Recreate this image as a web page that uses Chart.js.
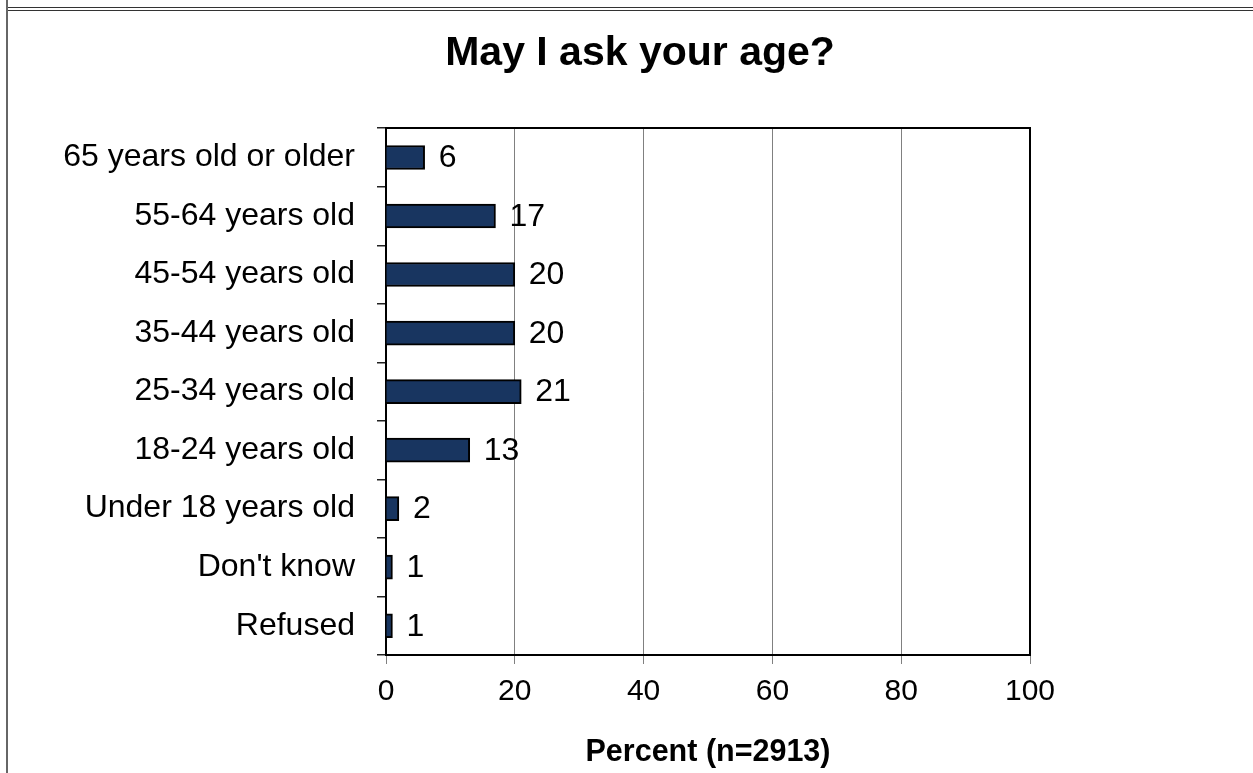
<!DOCTYPE html>
<html>
<head>
<meta charset="utf-8">
<title>May I ask your age?</title>
<script src="https://cdn.jsdelivr.net/npm/chart.js@4/dist/chart.umd.min.js"></script>
<style>
    html, body { margin: 0; padding: 0; background: #fff; overflow: hidden; }
    #wrap { position: relative; width: 1253px; height: 773px; }
    #ageChart { position: absolute; left: 0; top: 0; }
    .rule { position: absolute; pointer-events: none; }
    #ruleTopA { left: 7px; right: 0; top: 7px; height: 1px; background: #333; }
    #ruleTopB { left: 7px; right: 0; top: 10px; height: 1px; background: #333; }
    #ruleLeft { left: 6px; top: 0; bottom: 0; width: 2px; background: #666; }
</style>
</head>
<body>
<div id="wrap">
    <canvas id="ageChart" width="1253" height="773"></canvas>
    <div class="rule" id="ruleTopA"></div>
    <div class="rule" id="ruleTopB"></div>
    <div class="rule" id="ruleLeft"></div>
</div>
<script>
const ageGroups = [
    '65 years old or older',
    '55-64 years old',
    '45-54 years old',
    '35-44 years old',
    '25-34 years old',
    '18-24 years old',
    'Under 18 years old',
    "Don't know",
    'Refused'
];
const percentValues = [6, 17, 20, 20, 21, 13, 2, 1, 1];
const percentTicks = [0, 20, 40, 60, 80, 100];

const FONT = '"Liberation Sans", Arial, Helvetica, sans-serif';

// writes the percent next to the end of each bar
const valueLabels = {
    id: 'valueLabels',
    afterDatasetsDraw(chart) {
        const ctx = chart.ctx;
        const meta = chart.getDatasetMeta(0);
        ctx.save();
        ctx.font = '32px ' + FONT;
        ctx.fillStyle = '#000';
        ctx.textAlign = 'left';
        ctx.textBaseline = 'middle';
        meta.data.forEach(function(bar, i) {
            ctx.fillText(String(percentValues[i]), bar.x + 14, bar.y + 1);
        });
        ctx.restore();
    }
};

document.addEventListener('DOMContentLoaded', function() {
    const ctx = document.getElementById('ageChart').getContext('2d');
    new Chart(ctx, {
        type: 'bar',
        data: {
            labels: ageGroups,
            datasets: [{
                data: percentValues,
                backgroundColor: '#183560',
                borderColor: '#000',
                borderWidth: 2,
                barThickness: 24
            }]
        },
        options: {
            indexAxis: 'y',
            responsive: false,
            animation: false,
            layout: {
                padding: { left: 27, right: 0, top: 0, bottom: 0 }
            },
            plugins: {
                legend: { display: false },
                tooltip: { enabled: false },
                title: {
                    display: true,
                    text: 'May I ask your age?',
                    color: '#000',
                    font: { family: FONT, size: 41, weight: 'bold' },
                    padding: { top: 29, bottom: 50 }
                }
            },
            scales: {
                x: {
                    type: 'linear',
                    position: 'bottom',
                    min: 0,
                    max: 100,
                    afterBuildTicks: function(scale) {
                        scale.ticks = percentTicks.map(function(v) { return { value: v }; });
                    },
                    afterFit: function(scale) { scale.height = 118; },
                    grid: {
                        color: '#808080',
                        lineWidth: 1,
                        tickLength: 9,
                        tickColor: '#808080'
                    },
                    border: { display: true, color: '#000', width: 2 },
                    ticks: {
                        color: '#000',
                        padding: 10,
                        font: { family: FONT, size: 30 }
                    },
                    title: {
                        display: true,
                        text: 'Percent (n=2913)',
                        color: '#000',
                        font: { family: FONT, size: 30.5, weight: 'bold' },
                        padding: { top: 0, bottom: 2 }
                    }
                },
                x2: {
                    type: 'linear',
                    position: 'top',
                    min: 0,
                    max: 100,
                    afterFit: function(scale) { scale.height = 0; },
                    grid: { display: false },
                    ticks: { display: false },
                    border: { display: true, color: '#000', width: 2 }
                },
                y: {
                    type: 'category',
                    position: 'left',
                    afterFit: function(scale) { scale.width = 359; },
                    grid: {
                        offset: true,
                        drawOnChartArea: false,
                        tickLength: 9,
                        color: '#222',
                        lineWidth: 1.5
                    },
                    border: { display: true, color: '#000', width: 2 },
                    ticks: {
                        color: '#000',
                        padding: 22,
                        autoSkip: false,
                        font: { family: FONT, size: 32 }
                    }
                },
                y2: {
                    type: 'category',
                    position: 'right',
                    afterFit: function(scale) { scale.width = 223; },
                    grid: { display: false },
                    ticks: { display: false },
                    border: { display: true, color: '#000', width: 2 }
                }
            }
        },
        plugins: [valueLabels]
    });
});
</script>
</body>
</html>
